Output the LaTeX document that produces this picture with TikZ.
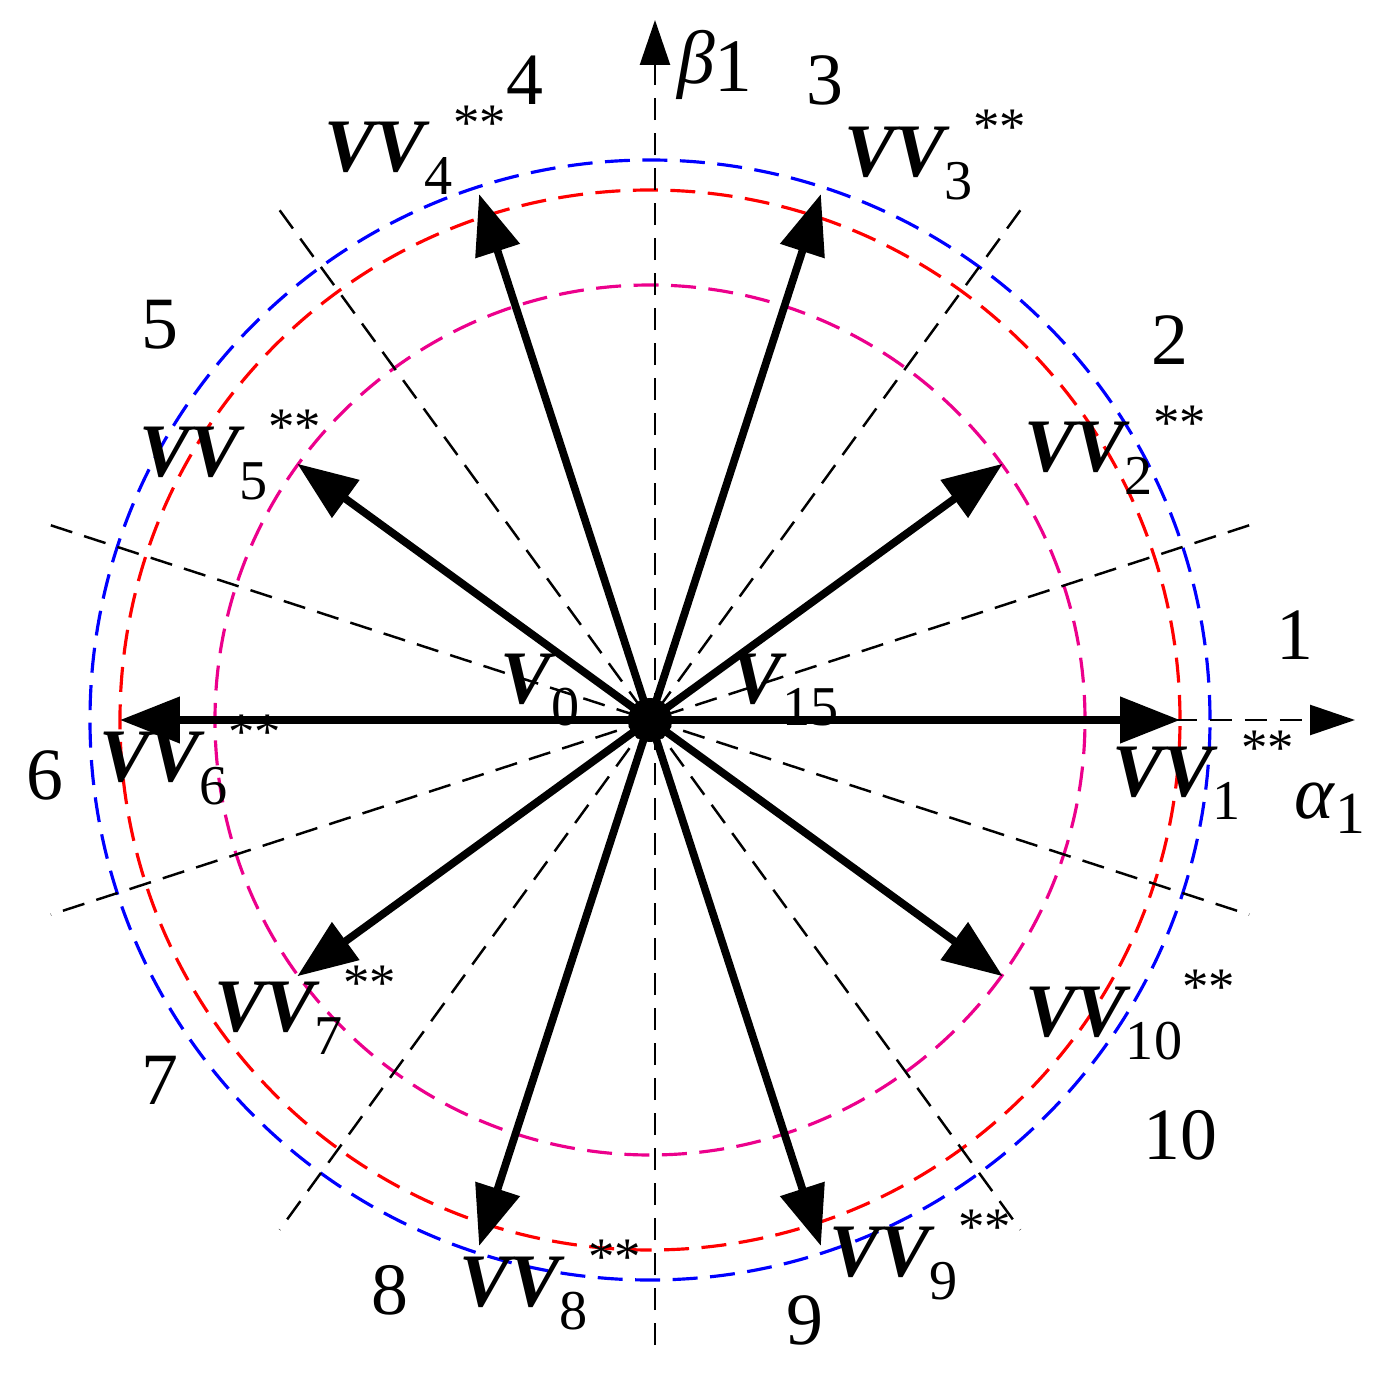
\documentclass[tikz,border=0pt]{standalone}
\usepackage{fontspec}
\setmainfont{Liberation Serif}
\usetikzlibrary{arrows.meta}
\newcommand{\vvlab}[1]{{\bfseries\itshape VV}\raisebox{-0.3em}{\fontsize{32}{32}\selectfont #1}\raisebox{0.42em}{\fontsize{30}{30}\selectfont **}}
\newcommand{\vlab}[1]{{\bfseries\itshape V}\raisebox{-0.3em}{\fontsize{32}{32}\selectfont #1}}
\tikzset{
 circ/.style={line width=1.8pt, dash pattern=on 0.5cm off 0.25cm},
 sect/.style={line width=1.4pt, dash pattern=on 0.45cm off 0.25cm},
 vec/.style={line width=4.4pt,-{Triangle[length=1.2cm,width=0.9cm]}},
 ax/.style={line width=1.4pt, dash pattern=on 0.45cm off 0.25cm,-{Triangle[length=0.9cm,width=0.6cm]}},
 lab/.style={font=\fontsize{43}{46}\selectfont},
 num/.style={font=\fontsize{42}{46}\selectfont}
}
\begin{document}
\begin{tikzpicture}[x=0.02cm,y=0.02cm]
\useasboundingbox (-650,-662) rectangle (732,720);
\coordinate (O) at (0,0);
\draw[circ,blue] (O) circle (560);
\draw[circ,red] (O) circle (530);
\draw[circ,magenta] (O) circle (435);
\foreach \a in {18,54,126,162} \draw[sect] (\a:630) -- (\a+180:630);
\coordinate (xe) at (705,0);
\coordinate (ys) at (5,-625); \coordinate (ye) at (5,700);
\draw[ax] (O) -- (xe);
\draw[ax] (ys) -- (ye);
\foreach \a/\r [count=\i] in {0/530,36/436,72/553,108/553,144/436,180/530,216/436,252/553,288/553,324/436}
 { \coordinate (t\i) at (\a:\r); \draw[vec] (O) -- (t\i); }
\fill (O) circle (22);
\node[lab] (l1) at (553,-55) {\vvlab{1}};
\node[lab] (l2) at (465,270) {\vvlab{2}};
\node[lab] (l3) at (285,565) {\vvlab{3}};
\node[lab] (l4) at (-235,570) {\vvlab{4}};
\node[lab] (l5) at (-420,265) {\vvlab{5}};
\node[lab] (l6) at (-460,-40) {\vvlab{6}};
\node[lab] (l7) at (-345,-290) {\vvlab{7}};
\node[lab] (l8) at (-100,-565) {\vvlab{8}};
\node[lab] (l9) at (270,-535) {\vvlab{9}};
\node[lab] (l10) at (480,-295) {\vvlab{10}};
\node[lab] (v0) at (-110,30) {\vlab{0}};
\node[lab] (v15) at (135,30) {\vlab{15}};
\node[num] (n1) at (645,85) {1};
\node[num] (n2) at (520,380) {2};
\node[num] (n3) at (175,640) {3};
\node[num] (n4) at (-125,640) {4};
\node[num] (n5) at (-490,395) {5};
\node[num] (n6) at (-605,-55) {6};
\node[num] (n7) at (-490,-360) {7};
\node[num] (n8) at (-260,-570) {8};
\node[num] (n9) at (155,-600) {9};
\node[num] (n10) at (530,-415) {10};
\node[lab] (beta) at (65,655) {\textit{β}\raisebox{-0.1em}{1}};
\node[lab] (alpha) at (680,-88) {\textit{α}\raisebox{-0.2em}{\fontsize{34}{34}\selectfont 1}};
\end{tikzpicture}
\end{document}
